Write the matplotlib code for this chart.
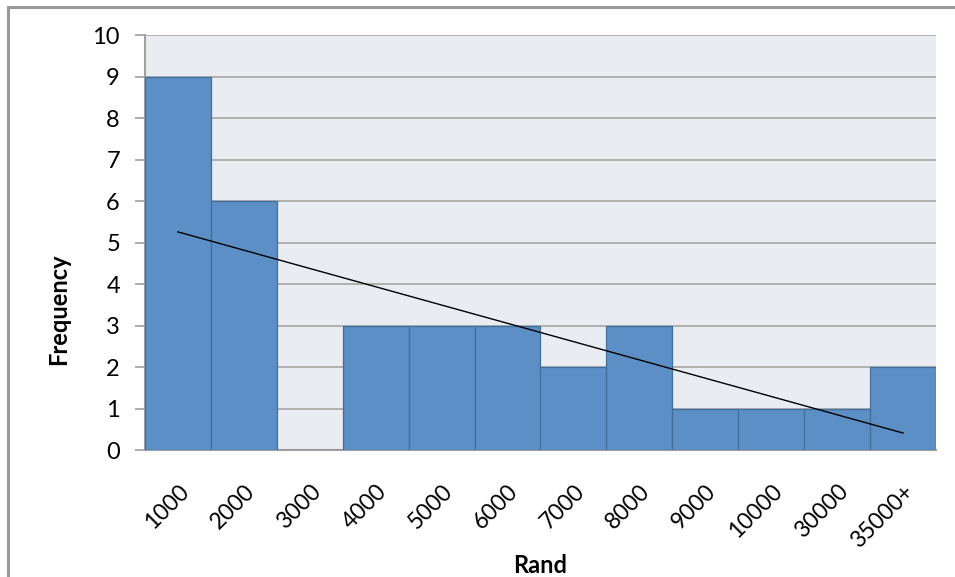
import numpy as np
import matplotlib.pyplot as plt
from matplotlib.patches import Rectangle

# income brackets (Rand) and how many fell in each
brackets = ['1000', '2000', '3000', '4000', '5000', '6000', '7000',
            '8000', '9000', '10000', '30000', '35000+']
freq = [9, 6, 0, 3, 3, 3, 2, 3, 1, 1, 1, 2]

plt.rcParams['font.family'] = ['Lato', 'DejaVu Sans']

fig = plt.figure(figsize=(9.55, 5.77), dpi=100)
ax = fig.add_axes([0.1518, 0.220, 0.8283, 0.7193])

# chart frame
fig.patches.append(Rectangle((0.0084, -0.05), 1.2, 1.038, transform=fig.transFigure,
                             fill=False, edgecolor='#999999', linewidth=2.2))

x = np.arange(len(freq))
ax.set_facecolor('#E9ECF1')
ax.bar(x, freq, width=1.0, color='#5B8FC5', edgecolor='#41709E', linewidth=0.9, zorder=3)

# linear trend through the bar heights
k, b = np.polyfit(x, freq, 1)
ax.plot([x[0], x[-1]], [k * x[0] + b, k * x[-1] + b], color='black', lw=1.0, zorder=4)

ax.set_xlim(-0.5, len(freq) - 0.5)
ax.set_ylim(0, 10)
ax.set_yticks(range(0, 11))
ax.yaxis.grid(True, color='#A6A6A6', lw=1.2, zorder=1)
ax.set_axisbelow(True)

ax.set_xticks(x)
ax.set_xticklabels(brackets, rotation=45, ha='right', va='top', rotation_mode='anchor')
ax.tick_params(axis='x', length=0, pad=22, labelsize=16.5)
ax.tick_params(axis='y', length=7, width=1.2, color='#A0A0A0', pad=11, labelsize=17)

for s in ['top', 'right']:
    ax.spines[s].set_visible(False)
for s in ['left', 'bottom']:
    ax.spines[s].set_color('#A0A0A0')
    ax.spines[s].set_linewidth(1.5)

ax.set_ylabel('Frequency', fontsize=17, fontweight='bold')
ax.yaxis.set_label_coords(-0.095, 0.34)
ax.set_xlabel('Rand', fontsize=17, fontweight='bold')
ax.xaxis.set_label_coords(0.5, -0.25)

fig.savefig('out.png', dpi=100)
